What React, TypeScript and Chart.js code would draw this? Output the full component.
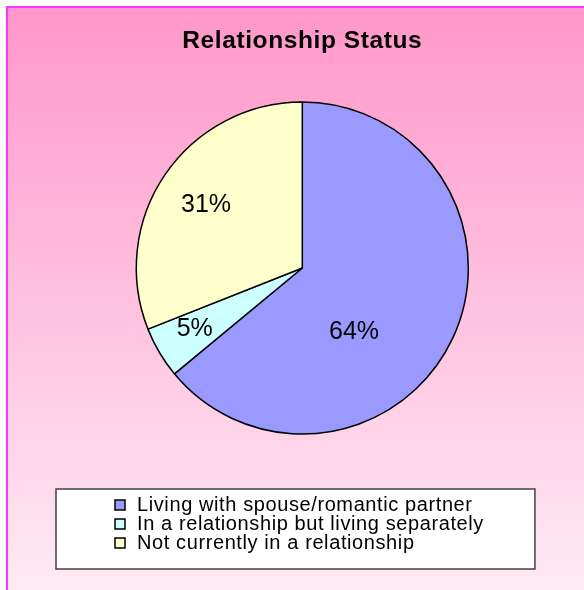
import { useEffect, useRef } from 'react';
import { Chart, registerables } from 'chart.js';

Chart.register(...registerables);

// ---- data ----
const chartTitle = 'Relationship Status';
const categories = [
  'Living with spouse/romantic partner',
  'In a relationship but living separately',
  'Not currently in a relationship',
];
const shares = [64, 5, 31];
const sliceColors = ['#9999FF', '#CCFFFF', '#FFFFCC'];

const FONT = '"Liberation Sans", Arial, sans-serif';

const excelFrame = {
  id: 'excelFrame',
  beforeLayout(chart: any, _a: any, opts: any) {
    chart.ctx.letterSpacing = opts.letterSpacing;
  },
  beforeDraw(chart: any, _a: any, opts: any) {
    const { ctx, width, height } = chart;
    ctx.save();
    ctx.fillStyle = '#ffffff';
    ctx.fillRect(0, 0, width, height);
    const g = ctx.createLinearGradient(0, opts.inset, 0, height);
    g.addColorStop(0, opts.topColor);
    g.addColorStop(1, opts.bottomColor);
    ctx.fillStyle = g;
    ctx.fillRect(opts.inset, opts.inset, width - opts.inset, height - opts.inset);
    ctx.fillStyle = opts.borderColor;
    ctx.fillRect(opts.inset, opts.inset, opts.borderWidth, height - opts.inset);
    ctx.fillRect(opts.inset, opts.inset, width - opts.inset, opts.borderWidth);

    const lg = chart.legend;
    if (lg && lg.legendHitBoxes && lg.legendHitBoxes.length) {
      const hb = lg.legendHitBoxes;
      const m = opts.legendMargin;
      const l = Math.min(...hb.map((h: any) => h.left)) - m.left;
      const r = Math.max(...hb.map((h: any) => h.left + h.width)) + m.right;
      const t = Math.min(...hb.map((h: any) => h.top)) - m.top;
      const b = Math.max(...hb.map((h: any) => h.top + h.height)) + m.bottom;
      ctx.fillStyle = '#ffffff';
      ctx.fillRect(l, t, r - l, b - t);
      ctx.strokeStyle = opts.legendBorder;
      ctx.lineWidth = 1.5;
      ctx.strokeRect(l, t, r - l, b - t);
    }
    ctx.restore();
    ctx.letterSpacing = opts.letterSpacing;
  },
};

const sliceLabels = {
  id: 'sliceLabels',
  afterDatasetsDraw(chart: any, _a: any, opts: any) {
    const { ctx } = chart;
    const meta = chart.getDatasetMeta(0);
    const values = chart.data.datasets[0].data as number[];
    const total = values.reduce((s, v) => s + v, 0);
    ctx.save();
    ctx.letterSpacing = '0px';
    ctx.font = `${opts.size}px ${FONT}`;
    ctx.fillStyle = '#000';
    ctx.textAlign = 'center';
    ctx.textBaseline = 'middle';
    meta.data.forEach((arc: any, i: number) => {
      const p = arc.getProps(['x', 'y', 'startAngle', 'endAngle', 'outerRadius'], true);
      const a = (p.startAngle + p.endAngle) / 2 + (opts.angleShift[i] * Math.PI) / 180;
      const r = p.outerRadius * opts.radiusFrac[i];
      const txt = `${Math.round((values[i] / total) * 100)}%`;
      ctx.fillText(txt, p.x + r * Math.cos(a), p.y + r * Math.sin(a));
    });
    ctx.restore();
  },
};

export default function App() {
  const ref = useRef<HTMLCanvasElement>(null);
  useEffect(() => {
    const chart = new Chart(ref.current as HTMLCanvasElement, {
      type: 'pie',
      data: {
        labels: categories,
        datasets: [
          {
            data: shares,
            backgroundColor: sliceColors,
            borderColor: '#000000',
            borderWidth: 1.5,
          },
        ],
      },
      options: {
        responsive: false,
        animation: false,
        events: [],
        layout: { padding: { top: 17, left: 114, right: 93.4, bottom: 27 } },
        plugins: {
          title: {
            display: true,
            text: chartTitle,
            color: '#000000',
            font: { family: FONT, size: 24.5, weight: 'bold', lineHeight: 1.2 },
            padding: { top: 9.3, bottom: 45.55 },
          },
          legend: {
            position: 'bottom',
            align: 'start',
            title: {
              display: true,
              text: ' ',
              padding: { top: 51.25, bottom: 0 },
              font: { size: 10, lineHeight: 1 },
            },
            labels: {
              usePointStyle: true,
              pointStyle: 'rect',
              boxWidth: 14,
              boxHeight: 10,
              padding: -1,
              color: '#000000',
              font: { family: FONT, size: 20 },
            },
          },
          tooltip: { enabled: false },
          excelFrame: {
            inset: 6,
            borderWidth: 2,
            borderColor: '#FF33FF',
            topColor: '#FF97C9',
            bottomColor: '#FFEAF4',
            legendBorder: '#404040',
            legendMargin: { left: 57, right: 51, top: 6, bottom: 16 },
            letterSpacing: '0.6px',
          },
          sliceLabels: {
            size: 25,
            angleShift: [25.9, 1, -1],
            radiusFrac: [0.496, 0.745, 0.693],
          },
        } as any,
      },
      plugins: [excelFrame, sliceLabels],
    });
    return () => chart.destroy();
  }, []);
  return (
    <div style={{ position: 'absolute', left: 0, top: 0, width: 584, height: 590 }}>
      <canvas ref={ref} width={584} height={590} style={{ display: 'block' }} />
    </div>
  );
}
